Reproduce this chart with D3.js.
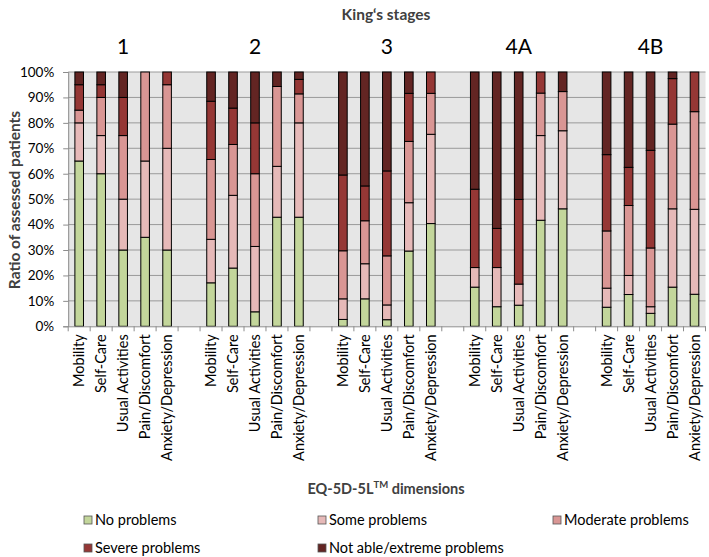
<!DOCTYPE html>
<html>
<head>
<meta charset="utf-8">
<script src="https://cdn.jsdelivr.net/npm/d3@7"></script>
<style>
  body { margin: 0; background: #fff; }
  svg { display: block; font-family: Lato, "Open Sans", sans-serif; }
</style>
</head>
<body>
<svg id="chart" width="709" height="557"></svg>
<script>
// ---- data (percent of assessed patients) ----
const stages = ["1", "2", "3", "4A", "4B"];
const dimensions = ["Mobility", "Self-Care", "Usual Activities", "Pain/Discomfort", "Anxiety/Depression"];
const levels = ["No problems", "Some problems", "Moderate problems", "Severe problems", "Not able/extreme problems"];
const yTicks = [0, 10, 20, 30, 40, 50, 60, 70, 80, 90, 100];

// each array: stage 1..4B, dimension order as above
const noProblems = [65, 60, 30, 35, 30,  17.1, 22.9, 5.7, 42.9, 42.9,  2.7, 10.8, 2.6, 29.6, 40.4,  15.4, 7.7, 8.3, 41.7, 46.2,  7.5, 12.5, 5.1, 15.4, 12.6];
const someProblems = [15, 15, 20, 30, 40,  17.1, 28.6, 25.7, 20, 37.1,  8.1, 13.8, 5.8, 19, 35.1,  7.7, 15.4, 8.3, 33.3, 30.7,  7.5, 7.5, 2.6, 30.8, 33.4];
const moderateProblems = [5, 15, 25, 35, 25,  31.4, 20, 28.6, 31.4, 11.4,  18.9, 16.9, 19.3, 24.1, 16.1,  0, 0, 0, 16.7, 15.4,  22.5, 27.5, 23.1, 33.3, 38.4];
const severeProblems = [10, 5, 15, 0, 5,  22.9, 14.3, 20, 0, 5.7,  29.8, 13.7, 33.4, 18.9, 8.4,  30.8, 15.4, 33.3, 8.3, 0,  30, 15, 38.4, 17.9, 15.6];
const extremeProblems = [5, 5, 10, 0, 0,  11.5, 14.2, 20, 5.7, 2.9,  40.5, 44.8, 38.9, 8.4, 0,  46.1, 61.5, 50.1, 0, 7.7,  32.5, 37.5, 30.8, 2.6, 0];

const levelColors = ["#c3d69b", "#e6b9b8", "#d99694", "#953735", "#632523"];
const seriesArrays = [noProblems, someProblems, moderateProblems, severeProblems, extremeProblems];

// ---- build slot list (one blank slot between stage groups) ----
const slots = [];
const rows = [];
stages.forEach((s, si) => {
  dimensions.forEach((d, di) => {
    const key = s + "|" + d;
    slots.push(key);
    const idx = si * dimensions.length + di;
    const row = { key, stage: s, dim: d };
    levels.forEach((l, li) => { row[l] = seriesArrays[li][idx]; });
    rows.push(row);
  });
  if (si < stages.length - 1) slots.push("gap" + si);
});

const svg = d3.select("#chart");
const pLeft = 68.2, pRight = 705.5, pTop = 72, pBottom = 326.3;

const x = d3.scaleBand().domain(slots).range([pLeft, pRight]).padding(0);
const y = d3.scaleLinear().domain([0, 100]).range([pBottom, pTop]);

// plot background
svg.append("rect").attr("x", pLeft).attr("y", pTop)
  .attr("width", pRight - pLeft).attr("height", pBottom - pTop)
  .attr("fill", "#e6e6e6");

// gridlines
svg.append("g").selectAll("line").data(yTicks.slice(1)).join("line")
  .attr("x1", pLeft).attr("x2", pRight)
  .attr("y1", d => y(d)).attr("y2", d => y(d))
  .attr("stroke", "#9a9a9a").attr("stroke-width", 1);

// stacked bars
const stack = d3.stack().keys(levels);
const stacked = stack(rows);
const barW = 8.6;
svg.append("g").selectAll("g").data(stacked).join("g")
  .attr("fill", (d, i) => levelColors[i])
  .selectAll("rect").data(d => d.filter(p => p[1] - p[0] > 0)).join("rect")
  .attr("x", d => x(d.data.key) + x.bandwidth() / 2 - barW / 2)
  .attr("width", barW)
  .attr("y", d => y(d[1]))
  .attr("height", d => y(d[0]) - y(d[1]))
  .attr("stroke", "#000").attr("stroke-width", 1);

// y axis
const yAxis = d3.axisLeft(y).tickValues(yTicks).tickFormat(d => d + "%").tickSize(5).tickPadding(9);
const gy = svg.append("g").attr("transform", `translate(${pLeft},0)`).call(yAxis);
gy.select(".domain").attr("stroke", "#8c8c8c");
gy.selectAll(".tick line").attr("stroke", "#8c8c8c");
gy.selectAll(".tick text").attr("font-size", 13.5).attr("fill", "#000").attr("font-family", "Lato, sans-serif");

// x axis
const xAxis = d3.axisBottom(x).tickSize(0).tickFormat(d => d.startsWith("gap") ? "" : d.split("|")[1]);
const gx = svg.append("g").attr("transform", `translate(0,${pBottom})`).call(xAxis);
gx.select(".domain").attr("stroke", "#8c8c8c");
gx.selectAll(".tick text")
  .attr("font-size", 14.5).attr("fill", "#000").attr("font-family", "Lato, sans-serif")
  .attr("text-anchor", "end")
  .attr("transform", "rotate(-90)")
  .attr("x", -8).attr("y", 0).attr("dy", "0.35em");
// tick marks at slot boundaries
const bounds = slots.map(s => x(s)).concat([pRight]);
svg.append("g").selectAll("line").data(bounds).join("line")
  .attr("x1", d => d).attr("x2", d => d)
  .attr("y1", pBottom).attr("y2", pBottom + 5)
  .attr("stroke", "#8c8c8c");

// stage labels
svg.append("g").selectAll("text").data(stages).join("text")
  .attr("x", s => x(s + "|" + dimensions[2]) + x.bandwidth() / 2)
  .attr("y", 54)
  .attr("text-anchor", "middle")
  .attr("font-size", 21).attr("fill", "#000")
  .text(s => s);

// titles
svg.append("text").attr("x", 386).attr("y", 20).attr("text-anchor", "middle")
  .attr("font-size", 15.5).attr("font-weight", "bold").attr("fill", "#404040")
  .text("King\u2018s stages");

svg.append("text").attr("transform", "translate(20,200) rotate(-90)")
  .attr("text-anchor", "middle")
  .attr("font-size", 15.5).attr("font-weight", "bold").attr("fill", "#404040")
  .text("Ratio of assessed patients");

const xt = svg.append("text").attr("x", 386).attr("y", 494).attr("text-anchor", "middle")
  .attr("font-size", 14.5).attr("font-weight", "bold").attr("fill", "#404040");
xt.append("tspan").text("EQ-5D-5L");
xt.append("tspan").attr("font-size", 9.5).attr("dy", -6).text("TM");
xt.append("tspan").attr("dy", 6).text(" dimensions");

// legend
const legendPos = [[84, 520], [318, 520], [553, 520], [84, 548], [318, 548]];
const lg = svg.append("g").selectAll("g").data(levels).join("g")
  .attr("transform", (d, i) => `translate(${legendPos[i][0]},${legendPos[i][1]})`);
lg.append("rect").attr("x", 0).attr("y", -4).attr("width", 8).attr("height", 8)
  .attr("fill", (d, i) => levelColors[i]).attr("stroke", "#555").attr("stroke-width", 0.8);
lg.append("text").attr("x", 11).attr("y", 0).attr("dy", "0.35em")
  .attr("font-size", 14.5).attr("fill", "#000").text(d => d);
</script>
</body>
</html>
